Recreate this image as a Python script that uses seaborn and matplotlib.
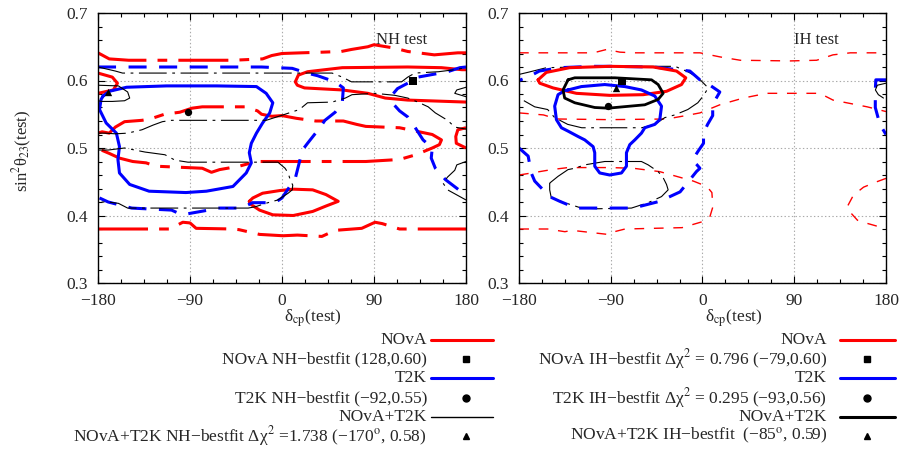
import matplotlib
matplotlib.use("Agg")
import matplotlib.pyplot as plt
from matplotlib.lines import Line2D
from matplotlib.ticker import MultipleLocator
import seaborn as sns

# --- DATA (delta_cp in degrees, sin^2 theta23) ---
# NH test panel
nova_nh_2s_top_x = [-180, -169, -150, -133, -90, -48, -19, -10, 0, 19, 40, 58, 68, 84, 90, 110, 123, 149, 172, 180]
nova_nh_2s_top_y = [0.641, 0.632, 0.630, 0.630, 0.630, 0.630, 0.632, 0.637, 0.640, 0.641, 0.642, 0.643, 0.646, 0.650, 0.653, 0.648, 0.643, 0.638, 0.641, 0.641]
nova_nh_2s_mid_x = [-180, -176, -169, -163, -154, -137, -129, -115, -100, -88, -78, -36, -24, -20, -10, 0, 14, 33, 60, 73, 82, 115, 131, 147, 156, 154, 147, 131, 115, 82, 50, -25, -42, -61, -69, -78, -108, -123, -133, -146, -159, -169, -180]
nova_nh_2s_mid_y = [0.522, 0.524, 0.522, 0.531, 0.539, 0.541, 0.543, 0.550, 0.553, 0.559, 0.561, 0.561, 0.555, 0.550, 0.547, 0.548, 0.544, 0.540, 0.540, 0.535, 0.532, 0.530, 0.525, 0.520, 0.512, 0.505, 0.500, 0.490, 0.483, 0.480, 0.480, 0.480, 0.473, 0.468, 0.464, 0.470, 0.472, 0.473, 0.478, 0.480, 0.485, 0.492, 0.499]
nova_nh_2s_edge_x = [180, 172, 170, 170.5, 180]
nova_nh_2s_edge_y = [0.530, 0.527, 0.517, 0.507, 0.500]
nova_nh_2s_bot_x = [-180, -110, -97, -90, -84, -48, -42, -22, 1, 15, 39, 52, 78, 91, 98, 115, 180]
nova_nh_2s_bot_y = [0.380, 0.380, 0.390, 0.389, 0.381, 0.380, 0.379, 0.372, 0.370, 0.371, 0.369, 0.378, 0.381, 0.390, 0.388, 0.380, 0.380]
nova_nh_1s_edge_x = [-180, -166, -161, -165, -180]
nova_nh_1s_edge_y = [0.611, 0.605, 0.596, 0.586, 0.581]
nova_nh_1s_band_x = [181, 176, 156, 123, 59, 25, 16, 13, 15, 22, 59, 84, 101, 123, 181]
nova_nh_1s_band_y = [0.616, 0.616, 0.619, 0.620, 0.619, 0.613, 0.608, 0.598, 0.593, 0.589, 0.586, 0.581, 0.574, 0.571, 0.568]
nova_nh_1s_small_x = [-32, -28.5, -19, -2, 11, 30, 43, 55, 43, 30, 11, -9, -22, -30, -32]
nova_nh_1s_small_y = [0.421, 0.426, 0.433, 0.437, 0.439, 0.438, 0.431, 0.421, 0.414, 0.406, 0.400, 0.401, 0.408, 0.416, 0.421]

t2k_nh_1s_x = [-175, -169, -152, -113, -64, -25, -15.5, -9, -12, -19, -25, -30, -32, -30, -35, -48, -74, -94, -130, -149, -159, -160.5, -159, -162, -172, -178.5, -177, -175]
t2k_nh_1s_y = [0.577, 0.584, 0.590, 0.592, 0.592, 0.591, 0.581, 0.567, 0.552, 0.537, 0.522, 0.507, 0.493, 0.478, 0.463, 0.443, 0.436, 0.434, 0.436, 0.446, 0.463, 0.483, 0.502, 0.522, 0.537, 0.557, 0.572, 0.577]
t2k_nh_2s_x = [-180, -100, -20, 10, 24.5, 35, 52, 60, 59, 52, 42, 37, 25, 20, 13, 0, -7, -29, -39, -63, -72, -98, -108, -147, -170, -180]
t2k_nh_2s_y = [0.620, 0.620, 0.620, 0.618, 0.611, 0.607, 0.598, 0.589, 0.567, 0.553, 0.541, 0.530, 0.507, 0.497, 0.455, 0.426, 0.419, 0.419, 0.411, 0.411, 0.408, 0.401, 0.408, 0.411, 0.420, 0.427]
t2k_nh_2s_edge_x = [180, 174, 162, 133, 123, 113, 108.5, 109, 115, 123, 130, 138, 147, 146, 150, 160, 173, 180]
t2k_nh_2s_edge_y = [0.620, 0.619, 0.613, 0.605, 0.596, 0.588, 0.580, 0.565, 0.555, 0.546, 0.531, 0.512, 0.500, 0.485, 0.470, 0.453, 0.438, 0.432]

comb_nh_1s_x = [-180, -160, -151, -149, -154, -166, -176, -180]
comb_nh_1s_y = [0.593, 0.592, 0.583, 0.574, 0.570, 0.569, 0.569, 0.570]
comb_nh_1s_edge_x = [180, 171, 169, 180]
comb_nh_1s_edge_y = [0.590, 0.586, 0.581, 0.576]
comb_nh_2s_top_x = [-180, -163, -156, -100, -7, 49, 59, 68, 117, 123, 130, 153, 169, 180]
comb_nh_2s_top_y = [0.620, 0.614, 0.611, 0.611, 0.611, 0.611, 0.605, 0.598, 0.598, 0.605, 0.611, 0.613, 0.616, 0.619]
comb_nh_2s_mid_x = [-180, -173, -163, -151, -137, -126, -117, -108, -60, -15.5, 1, 17, 25, 49, 62, 68.5, 91, 110.5, 123, 133, 143, 150, 162, 169, 180]
comb_nh_2s_mid_y = [0.522, 0.522, 0.521, 0.522, 0.527, 0.534, 0.539, 0.541, 0.541, 0.541, 0.549, 0.557, 0.567, 0.568, 0.574, 0.579, 0.581, 0.578, 0.574, 0.568, 0.561, 0.552, 0.541, 0.531, 0.528]
comb_nh_2s_low_x = [-180, -170, -154, -134, -114.5, -104.7, -92, -50, -4, 3, 6, 8, 10.5, 10, 6, 0, -4, -13.7, -26, -33, -90, -151, -160, -170, -180]
comb_nh_2s_low_y = [0.497, 0.497, 0.500, 0.494, 0.490, 0.482, 0.479, 0.479, 0.479, 0.470, 0.463, 0.453, 0.445, 0.438, 0.433, 0.427, 0.423, 0.419, 0.413, 0.411, 0.411, 0.411, 0.418, 0.420, 0.420]
comb_nh_2s_edge_x = [180, 171, 169, 162, 157.5, 162, 180]
comb_nh_2s_edge_y = [0.480, 0.475, 0.467, 0.457, 0.448, 0.438, 0.423]

# IH test panel
nova_ih_1s_x = [-161.3, -153.2, -130.3, -91, -48.4, -25.5, -16.4, -20.6, -35.3, -58.2, -91, -123.7, -146.6, -159.7, -161.3]
nova_ih_1s_y = [0.601, 0.612, 0.619, 0.621, 0.620, 0.614, 0.604, 0.594, 0.584, 0.579, 0.578, 0.581, 0.589, 0.596, 0.601]
nova_ih_2s_top_x = [-180, -107, -94, -81, -68, -2.5, 17, 37, 86, 112, 128, 145, 180]
nova_ih_2s_top_y = [0.641, 0.641, 0.646, 0.642, 0.641, 0.641, 0.635, 0.630, 0.629, 0.630, 0.638, 0.641, 0.641]
nova_ih_2s_mid_x = [-180, -156, -143, -91, -35, -20, -2.5, 17, 40, 63, 115, 128, 161.5, 180]
nova_ih_2s_mid_y = [0.552, 0.549, 0.543, 0.542, 0.543, 0.547, 0.552, 0.564, 0.574, 0.581, 0.581, 0.571, 0.561, 0.554]
nova_ih_2s_low_x = [-180, -167.6, -148, -132, -91, -68, -42, -25.5, -9, 4.3, 9.2, 10.2, 7.2, 0.3, -20, -76, -89, -93, -128, -135, -152, -180]
nova_ih_2s_low_y = [0.460, 0.463, 0.468, 0.471, 0.471, 0.470, 0.465, 0.458, 0.451, 0.443, 0.434, 0.413, 0.398, 0.391, 0.382, 0.380, 0.375, 0.372, 0.378, 0.376, 0.380, 0.380]
nova_ih_2s_edge_x = [180, 171, 158, 148, 142, 143, 152, 160, 174, 180]
nova_ih_2s_edge_y = [0.455, 0.450, 0.442, 0.430, 0.413, 0.408, 0.393, 0.389, 0.383, 0.381]

t2k_ih_1s_x = [-131.9, -118.8, -95.9, -76.2, -59.9, -46.8, -40.2, -41.9, -46.8, -56.6, -59.9, -66.4, -71.3, -74.6, -74.6, -79.5, -91, -100.8, -105.7, -105.7, -107.3, -115.5, -122, -131.9, -138.4, -143.3, -145, -141.7, -135.2, -131.9]
t2k_ih_1s_y = [0.586, 0.591, 0.594, 0.591, 0.586, 0.577, 0.562, 0.542, 0.535, 0.530, 0.522, 0.512, 0.505, 0.493, 0.473, 0.463, 0.460, 0.463, 0.473, 0.493, 0.502, 0.512, 0.517, 0.525, 0.530, 0.542, 0.562, 0.579, 0.585, 0.586]
t2k_ih_2s_x = [-180, -171, -168, -164.6, -150, -140, -124, -90, -68, -42, -22, -15, -6, -2.5, -6, -10, -4, 1, 1, 5, 10, 10, 12, 17, 4.4, -2.6, -12.4, -48, -90, -107, -140, -160, -170, -180]
t2k_ih_2s_y = [0.500, 0.488, 0.463, 0.451, 0.428, 0.421, 0.411, 0.411, 0.411, 0.421, 0.435, 0.448, 0.465, 0.470, 0.476, 0.482, 0.496, 0.507, 0.522, 0.535, 0.548, 0.560, 0.570, 0.583, 0.596, 0.601, 0.614, 0.620, 0.621, 0.621, 0.619, 0.614, 0.606, 0.600]
t2k_ih_2s_edge_x = [180, 170, 169.5, 169.5, 174, 180]
t2k_ih_2s_edge_y = [0.601, 0.601, 0.585, 0.560, 0.535, 0.520]

comb_ih_1s_x = [-131.9, -125.3, -86, -50, -43.5, -38.6, -43.5, -56.6, -92.6, -105.7, -125.3, -135.2, -136.8, -131.9]
comb_ih_1s_y = [0.601, 0.604, 0.604, 0.601, 0.594, 0.581, 0.572, 0.564, 0.559, 0.560, 0.567, 0.574, 0.586, 0.601]
comb_ih_1s_edge_x = [180, 171.5, 169.6, 172.5, 177.5]
comb_ih_1s_edge_y = [0.596, 0.593, 0.586, 0.579, 0.574]
comb_ih_2s_out_x = [-180, -171.5, -153, -91, -35, -27, -14.4, -4.2, 5.6, 0.7, -4.6, -14.4, -27.2, -37, -46.8, -59.6, -118.5, -132.2, -145, -151.9, -164.6, -177.4, -180]
comb_ih_2s_out_y = [0.609, 0.612, 0.619, 0.621, 0.621, 0.621, 0.613, 0.604, 0.589, 0.577, 0.567, 0.557, 0.549, 0.545, 0.535, 0.530, 0.530, 0.535, 0.545, 0.557, 0.561, 0.572, 0.573]
comb_ih_2s_in_x = [-149.9, -141.7, -131.9, -125.3, -115.5, -95.9, -76.2, -59.9, -53.3, -43.5, -38.6, -35.3, -33.7, -40.2, -53.3, -69.7, -102.4, -118.8, -135.2, -148.3, -149.9, -149.9]
comb_ih_2s_in_y = [0.448, 0.458, 0.468, 0.470, 0.475, 0.480, 0.480, 0.480, 0.475, 0.465, 0.456, 0.446, 0.438, 0.428, 0.419, 0.411, 0.410, 0.411, 0.419, 0.426, 0.438, 0.448]

# best-fit points
nh_best_x = [128, -92, -170]
nh_best_y = [0.599, 0.553, 0.583]
ih_best_x = [-79, -93, -85]
ih_best_y = [0.600, 0.562, 0.589]
best_markers = ["s", "o", "^"]

left_labels = ["NOvA", "NOvA NH\u2212bestfit (128,0.60)", "T2K",
               "T2K NH\u2212bestfit (\u221292,0.55)", "NOvA+T2K",
               "NOvA+T2K NH\u2212bestfit \u0394\u03c7$^2$ =1.738 (\u2212170$^{\\rm o}$, 0.58)"]
right_labels = ["NOvA", "NOvA IH\u2212bestfit \u0394\u03c7$^2$ = 0.796 (\u221279,0.60)", "T2K",
                "T2K IH\u2212bestfit \u0394\u03c7$^2$ = 0.295 (\u221293,0.56)", "NOvA+T2K",
                "NOvA+T2K IH\u2212bestfit  (\u221285$^{\\rm o}$, 0.59)"]

# --- STYLE ---
sns.set_theme(style="ticks")
plt.rcParams['font.family'] = ['Liberation Serif', 'DejaVu Serif']
plt.rcParams['mathtext.fontset'] = 'stix'
plt.rcParams['lines.scale_dashes'] = False
plt.rcParams['axes.unicode_minus'] = True

RED, BLUE, BLACK = "#ff0000", "#0000ff", "#000000"
DASHDOT_RED = (0, (36, 8, 7, 8))
DASH_BLUE = (0, (13, 9))
DASHDOT_BLK = (0, (20, 4, 2, 4))
DASH_RED_THIN = (0, (7, 7))


def curve(ax, xs, ys, color, lw, ls="-"):
    sns.lineplot(x=xs, y=ys, sort=False, estimator=None, ax=ax, color=color,
                 linewidth=lw, linestyle=ls, legend=False)


fig = plt.figure(figsize=(9.04, 4.5), dpi=100)
ax1 = fig.add_axes([98 / 904, 1 - 283 / 450, 368 / 904, 270 / 450])
ax2 = fig.add_axes([519 / 904, 1 - 283 / 450, 367 / 904, 270 / 450])

# --- NH panel ---
curve(ax1, nova_nh_2s_top_x, nova_nh_2s_top_y, RED, 2.2, DASHDOT_RED)
curve(ax1, nova_nh_2s_mid_x, nova_nh_2s_mid_y, RED, 2.2, DASHDOT_RED)
curve(ax1, nova_nh_2s_edge_x, nova_nh_2s_edge_y, RED, 2.2, DASHDOT_RED)
curve(ax1, nova_nh_2s_bot_x, nova_nh_2s_bot_y, RED, 2.2, DASHDOT_RED)
curve(ax1, nova_nh_1s_edge_x, nova_nh_1s_edge_y, RED, 2.2)
curve(ax1, nova_nh_1s_band_x, nova_nh_1s_band_y, RED, 2.2)
curve(ax1, nova_nh_1s_small_x, nova_nh_1s_small_y, RED, 2.2)
curve(ax1, t2k_nh_1s_x, t2k_nh_1s_y, BLUE, 2.2)
curve(ax1, t2k_nh_2s_x, t2k_nh_2s_y, BLUE, 2.2, DASH_BLUE)
curve(ax1, t2k_nh_2s_edge_x, t2k_nh_2s_edge_y, BLUE, 2.2, DASH_BLUE)
curve(ax1, comb_nh_1s_x, comb_nh_1s_y, BLACK, 0.8)
curve(ax1, comb_nh_1s_edge_x, comb_nh_1s_edge_y, BLACK, 0.8)
curve(ax1, comb_nh_2s_top_x, comb_nh_2s_top_y, BLACK, 0.8, DASHDOT_BLK)
curve(ax1, comb_nh_2s_mid_x, comb_nh_2s_mid_y, BLACK, 0.8, DASHDOT_BLK)
curve(ax1, comb_nh_2s_low_x, comb_nh_2s_low_y, BLACK, 0.8, DASHDOT_BLK)
curve(ax1, comb_nh_2s_edge_x, comb_nh_2s_edge_y, BLACK, 0.8, DASHDOT_BLK)

# --- IH panel ---
curve(ax2, nova_ih_2s_top_x, nova_ih_2s_top_y, RED, 1.0, DASH_RED_THIN)
curve(ax2, nova_ih_2s_mid_x, nova_ih_2s_mid_y, RED, 1.0, DASH_RED_THIN)
curve(ax2, nova_ih_2s_low_x, nova_ih_2s_low_y, RED, 1.0, DASH_RED_THIN)
curve(ax2, nova_ih_2s_edge_x, nova_ih_2s_edge_y, RED, 1.0, DASH_RED_THIN)
curve(ax2, comb_ih_2s_out_x, comb_ih_2s_out_y, BLACK, 0.8, DASHDOT_BLK)
curve(ax2, comb_ih_2s_in_x, comb_ih_2s_in_y, BLACK, 0.8, DASHDOT_BLK)
curve(ax2, t2k_ih_2s_x, t2k_ih_2s_y, BLUE, 2.2, DASH_BLUE)
curve(ax2, t2k_ih_2s_edge_x, t2k_ih_2s_edge_y, BLUE, 2.2, DASH_BLUE)
curve(ax2, nova_ih_1s_x, nova_ih_1s_y, RED, 2.2)
curve(ax2, t2k_ih_1s_x, t2k_ih_1s_y, BLUE, 2.2)
curve(ax2, comb_ih_1s_x, comb_ih_1s_y, BLACK, 2.0)
curve(ax2, comb_ih_1s_edge_x, comb_ih_1s_edge_y, BLACK, 0.8)

for ax, bx, by in [(ax1, nh_best_x, nh_best_y), (ax2, ih_best_x, ih_best_y)]:
    for x, y, m in zip(bx, by, best_markers):
        sns.scatterplot(x=[x], y=[y], marker=m, s=28, color=BLACK, linewidth=0,
                        ax=ax, legend=False, zorder=5)

ax1.text(92, 0.66, "NH test", fontsize=12, va="center")
ax2.text(90, 0.66, "IH test", fontsize=12, va="center")

for ax in (ax1, ax2):
    ax.set_xlim(-180, 180)
    ax.set_ylim(0.3, 0.7)
    ax.xaxis.set_minor_locator(MultipleLocator(22.5))
    ax.yaxis.set_minor_locator(MultipleLocator(0.02))
    ax.set_xticks([-180, -90, 0, 90, 180])
    ax.set_xticklabels(["\u2212180", "\u221290", "0", "90", "180"])
    ax.set_yticks([0.3, 0.4, 0.5, 0.6, 0.7])
    ax.set_yticklabels(["0.3", "0.4", "0.5", "0.6", "0.7"])
    ax.tick_params(which="both", direction="in", top=True, right=True,
                   labelsize=12.5, color="black", width=0.8)
    ax.tick_params(which="major", length=5, pad=7)
    ax.tick_params(which="minor", length=3)
    ax.grid(True, which="major", linestyle=":", color="#aaaaaa", linewidth=0.8)
    for sp in ax.spines.values():
        sp.set_color("black")
        sp.set_linewidth(1.0)
    ax.set_xlabel("\u03b4$_{\\rm cp}$(test)", fontsize=12.5, va="center")
    ax.xaxis.set_label_coords(0.585, -0.13)
    ax.set_ylabel("")

ax1.set_ylabel("sin$^2$\u03b8$_{23}$(test)", fontsize=12, va="center")
ax1.yaxis.set_label_coords((22 - 98) / 368, 0.49)

# --- legends (drawn in figure pixels) ---
rows_y = [340, 359, 378, 398, 417, 436]


def legend_block(labels, text_right, line_x0, line_x1, marker_x, comb_lw):
    samples = [(RED, 2.2), None, (BLUE, 2.2), None, (BLACK, comb_lw), None]
    for i, (lab, yy) in enumerate(zip(labels, rows_y)):
        fy = 1 - yy / 450
        fig.text(text_right / 904, fy, lab, ha="right", va="center", fontsize=12.5)
        if samples[i] is not None:
            c, lw = samples[i]
            fig.add_artist(Line2D([line_x0 / 904, line_x1 / 904], [fy, fy],
                                  transform=fig.transFigure, color=c, linewidth=lw))
        else:
            m = best_markers[i // 2]
            fig.add_artist(Line2D([marker_x / 904], [fy], transform=fig.transFigure,
                                  marker=m, markersize=5, color=BLACK, linestyle="none"))


legend_block(left_labels, 427, 431, 493, 466, 1.0)
legend_block(right_labels, 827, 840, 895, 867, 2.2)

fig.savefig("out.png", dpi=100)
